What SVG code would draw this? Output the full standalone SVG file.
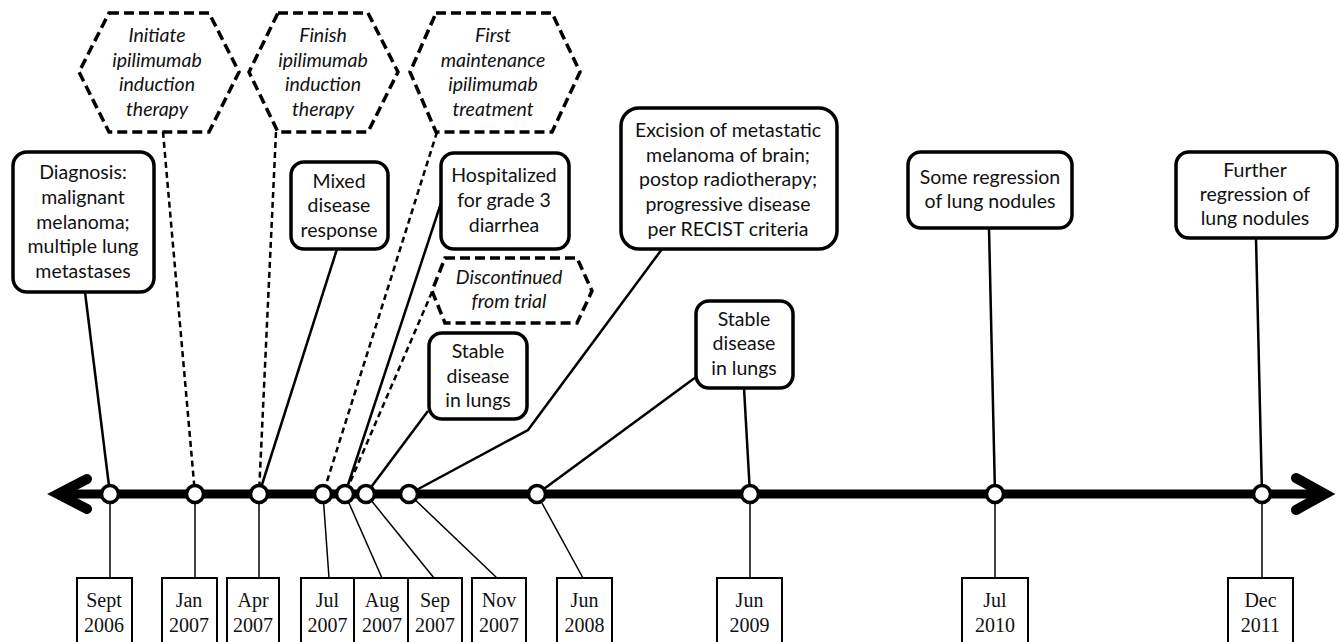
<svg xmlns="http://www.w3.org/2000/svg" width="1340" height="642" viewBox="0 0 1340 642">
<style>
.bg{fill:#ffffff}
.box{fill:#ffffff;stroke:#000;stroke-width:3.5}
.hex{fill:#ffffff;stroke:#000;stroke-width:3.5;stroke-dasharray:10 5;stroke-linejoin:miter}
.t{font-family:Lato,"Liberation Sans",sans-serif;font-size:19.5px;fill:#111;text-anchor:middle}
.ti{font-family:Lato,"Liberation Sans",sans-serif;font-size:19.5px;font-style:italic;fill:#111;text-anchor:middle}
.d{font-family:"Liberation Serif",serif;font-size:20px;fill:#111;text-anchor:middle}
.date{fill:#ffffff;stroke:#000;stroke-width:2}
.c{fill:none;stroke:#000;stroke-width:2.5}
.cd{fill:none;stroke:#000;stroke-width:2.5;stroke-dasharray:6 4}
.cl{fill:none;stroke:#000;stroke-width:1.5}
.pt{fill:#ffffff;stroke:#000;stroke-width:3.5}
.axis{fill:none;stroke:#000;stroke-width:9}
.arr{fill:none;stroke:#000;stroke-width:10;stroke-linecap:round;stroke-linejoin:miter;stroke-miterlimit:10}
</style>
<rect class="bg" x="0" y="0" width="1340" height="642"/>

<g id="connectors">
  <line class="c" x1="85" y1="292" x2="110" y2="494"/>
  <line class="cd" x1="163" y1="132" x2="195" y2="494"/>
  <line class="cd" x1="276" y1="132" x2="259" y2="494"/>
  <line class="c" x1="337" y1="249" x2="259" y2="494"/>
  <line class="cd" x1="437" y1="132" x2="323" y2="494"/>
  <line class="c" x1="442" y1="200" x2="345" y2="494"/>
  <line class="cd" x1="432" y1="292" x2="345" y2="494"/>
  <line class="c" x1="428" y1="411" x2="366" y2="494"/>
  <polyline class="c" points="662,249 528,430 409,494"/>
  <line class="c" x1="696" y1="377" x2="537" y2="494"/>
  <line class="c" x1="744" y1="388" x2="750" y2="494"/>
  <line class="c" x1="989" y1="228" x2="995" y2="494"/>
  <line class="c" x1="1256" y1="238" x2="1262" y2="494"/>
  <line class="cl" x1="110" y1="494" x2="110" y2="578"/>
  <line class="cl" x1="195" y1="494" x2="195" y2="578"/>
  <line class="cl" x1="259" y1="494" x2="259" y2="578"/>
  <line class="cl" x1="323" y1="494" x2="329" y2="578"/>
  <line class="cl" x1="345" y1="494" x2="382" y2="578"/>
  <line class="cl" x1="366" y1="494" x2="434" y2="578"/>
  <line class="cl" x1="409" y1="494" x2="497" y2="578"/>
  <line class="cl" x1="537" y1="494" x2="583" y2="578"/>
  <line class="cl" x1="750" y1="494" x2="750" y2="578"/>
  <line class="cl" x1="995" y1="494" x2="995" y2="578"/>
  <line class="cl" x1="1262" y1="494" x2="1262" y2="578"/>
</g>

<g id="axis">
  <line class="axis" x1="58" y1="494" x2="1324" y2="494"/>
  <polyline class="arr" points="87,479 58,494 87,509"/>
  <polyline class="arr" points="1296,478 1325,494 1296,510"/>
</g>

<g id="points">
  <circle class="pt" cx="110" cy="494" r="8.5"/>
  <circle class="pt" cx="195" cy="494" r="8.5"/>
  <circle class="pt" cx="259" cy="494" r="8.5"/>
  <circle class="pt" cx="323" cy="494" r="8.5"/>
  <circle class="pt" cx="345" cy="494" r="8.5"/>
  <circle class="pt" cx="366" cy="494" r="8.5"/>
  <circle class="pt" cx="409" cy="494" r="8.5"/>
  <circle class="pt" cx="537" cy="494" r="8.5"/>
  <circle class="pt" cx="750" cy="494" r="8.5"/>
  <circle class="pt" cx="995" cy="494" r="8.5"/>
  <circle class="pt" cx="1262" cy="494" r="8.5"/>
</g>

<g id="n-diagnosis">
  <rect class="box" x="13" y="152" width="141" height="140" rx="14"/>
  <text class="t" x="83" y="179">Diagnosis:</text>
  <text class="t" x="83" y="204">malignant</text>
  <text class="t" x="83" y="228.5">melanoma;</text>
  <text class="t" x="83" y="253">multiple lung</text>
  <text class="t" x="83" y="278">metastases</text>
</g>

<g id="n-initiate">
  <polygon class="hex" points="109,13 209,13 239,72 209,132 109,132 79,72"/>
  <text class="ti" x="157" y="42">Initiate</text>
  <text class="ti" x="157" y="66.5">ipilimumab</text>
  <text class="ti" x="157" y="91">induction</text>
  <text class="ti" x="157" y="116">therapy</text>
</g>

<g id="n-finish">
  <polygon class="hex" points="278,13 368,13 398,72 368,132 278,132 249,72"/>
  <text class="ti" x="323" y="42">Finish</text>
  <text class="ti" x="323" y="66.5">ipilimumab</text>
  <text class="ti" x="323" y="91">induction</text>
  <text class="ti" x="323" y="116">therapy</text>
</g>

<g id="n-first">
  <polygon class="hex" points="436,13 552,13 580,72 552,132 436,132 410,72"/>
  <text class="ti" x="493" y="42">First</text>
  <text class="ti" x="493" y="66.5">maintenance</text>
  <text class="ti" x="493" y="91">ipilimumab</text>
  <text class="ti" x="493" y="116">treatment</text>
</g>

<g id="n-mixed">
  <rect class="box" x="291" y="162" width="97" height="87" rx="13"/>
  <text class="t" x="339" y="188">Mixed</text>
  <text class="t" x="339" y="212">disease</text>
  <text class="t" x="339" y="237">response</text>
</g>

<g id="n-hosp">
  <rect class="box" x="441" y="153" width="128" height="96" rx="13"/>
  <text class="t" x="504" y="182">Hospitalized</text>
  <text class="t" x="504" y="207">for grade 3</text>
  <text class="t" x="504" y="232">diarrhea</text>
</g>

<g id="n-discontinued">
  <polygon class="hex" points="445,258 577,258 592,291 577,323 445,323 432,291"/>
  <text class="ti" x="509" y="284">Discontinued</text>
  <text class="ti" x="509" y="308">from trial</text>
</g>

<g id="n-stable1">
  <rect class="box" x="429" y="333" width="98" height="86" rx="13"/>
  <text class="t" x="478" y="358">Stable</text>
  <text class="t" x="478" y="383">disease</text>
  <text class="t" x="478" y="407">in lungs</text>
</g>

<g id="n-excision">
  <rect class="box" x="621" y="108" width="216" height="141" rx="18"/>
  <text class="t" x="728" y="137">Excision of metastatic</text>
  <text class="t" x="728" y="161.5">melanoma of brain;</text>
  <text class="t" x="728" y="186">postop radiotherapy;</text>
  <text class="t" x="728" y="211">progressive disease</text>
  <text class="t" x="728" y="235.5">per RECIST criteria</text>
</g>

<g id="n-stable2">
  <rect class="box" x="696" y="301" width="97" height="87" rx="13"/>
  <text class="t" x="744" y="326">Stable</text>
  <text class="t" x="744" y="350">disease</text>
  <text class="t" x="744" y="375">in lungs</text>
</g>

<g id="n-some">
  <rect class="box" x="908" y="152" width="164" height="76" rx="13"/>
  <text class="t" x="990" y="184">Some regression</text>
  <text class="t" x="990" y="208">of lung nodules</text>
</g>

<g id="n-further">
  <rect class="box" x="1176" y="152" width="161" height="86" rx="13"/>
  <text class="t" x="1255" y="177">Further</text>
  <text class="t" x="1255" y="201">regression of</text>
  <text class="t" x="1255" y="225">lung nodules</text>
</g>

<g id="dates">
  <g id="d-sep2006"><rect class="date" x="77" y="578" width="55" height="70"/><text class="d" x="104" y="607">Sept</text><text class="d" x="104" y="632">2006</text></g>
  <g id="d-jan2007"><rect class="date" x="162" y="578" width="55" height="70"/><text class="d" x="189" y="607">Jan</text><text class="d" x="189" y="632">2007</text></g>
  <g id="d-apr2007"><rect class="date" x="227" y="578" width="52" height="70"/><text class="d" x="253" y="607">Apr</text><text class="d" x="253" y="632">2007</text></g>
  <g id="d-jul2007"><rect class="date" x="301" y="578" width="53" height="70"/><text class="d" x="327.5" y="607">Jul</text><text class="d" x="327.5" y="632">2007</text></g>
  <g id="d-aug2007"><rect class="date" x="354" y="578" width="54" height="70"/><text class="d" x="382" y="607">Aug</text><text class="d" x="382" y="632">2007</text></g>
  <g id="d-sep2007"><rect class="date" x="408" y="578" width="54" height="70"/><text class="d" x="435" y="607">Sep</text><text class="d" x="435" y="632">2007</text></g>
  <g id="d-nov2007"><rect class="date" x="472" y="578" width="54" height="70"/><text class="d" x="499" y="607">Nov</text><text class="d" x="499" y="632">2007</text></g>
  <g id="d-jun2008"><rect class="date" x="557" y="578" width="55" height="70"/><text class="d" x="584.5" y="607">Jun</text><text class="d" x="584.5" y="632">2008</text></g>
  <g id="d-jun2009"><rect class="date" x="717" y="578" width="65" height="70"/><text class="d" x="749.5" y="607">Jun</text><text class="d" x="749.5" y="632">2009</text></g>
  <g id="d-jul2010"><rect class="date" x="962" y="578" width="66" height="70"/><text class="d" x="995" y="607">Jul</text><text class="d" x="995" y="632">2010</text></g>
  <g id="d-dec2011"><rect class="date" x="1228" y="578" width="65" height="70"/><text class="d" x="1260.5" y="607">Dec</text><text class="d" x="1260.5" y="632">2011</text></g>
</g>
</svg>
